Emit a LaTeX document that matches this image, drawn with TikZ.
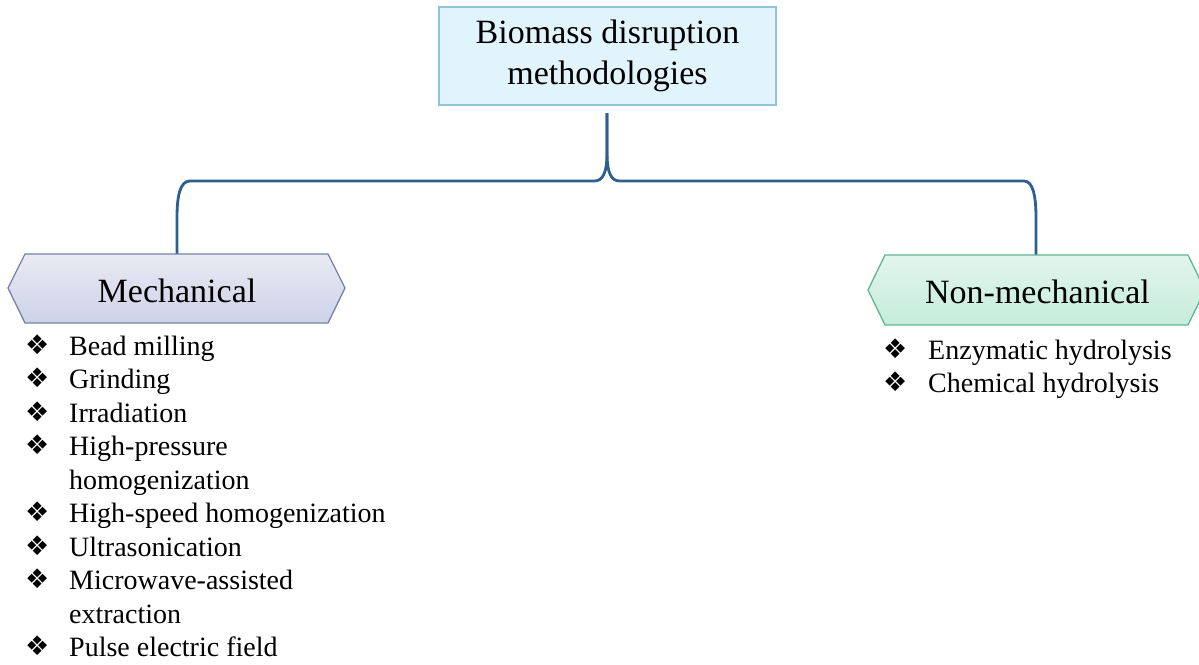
\documentclass[tikz,border=0pt]{standalone}
\usepackage{fontspec}
\setmainfont{Liberation Serif}
\newfontfamily\symfont{DejaVu Sans}
\usetikzlibrary{calc}
\definecolor{bracecol}{HTML}{2F5F8F}
\definecolor{topfill}{HTML}{E1F3FB}
\definecolor{topdraw}{HTML}{8EC3D8}
\definecolor{mechtop}{HTML}{E9EAF2}
\definecolor{mechbot}{HTML}{CDD2E8}
\definecolor{mechdraw}{HTML}{7383A8}
\definecolor{nmtop}{HTML}{E2F5EE}
\definecolor{nmbot}{HTML}{C6ECDB}
\definecolor{nmdraw}{HTML}{62B592}
\newcommand{\bul}{\makebox[20pt][c]{\smash{\raisebox{1pt}{\symfont\fontsize{27}{27}\selectfont ❖}}}}
\tikzset{
  topbox/.style={draw=topdraw, line width=1.6pt, fill=topfill, minimum width=337pt, minimum height=98pt, inner sep=0pt, align=center, font=\fontsize{34}{41}\selectfont},
  headtext/.style={inner sep=0pt, anchor=base, font=\fontsize{34}{41}\selectfont},
  mechshape/.style={top color=mechtop, bottom color=mechbot, draw=mechdraw, line width=1.3pt, line join=round},
  nmshape/.style={top color=nmtop, bottom color=nmbot, draw=nmdraw, line width=1.3pt, line join=round},
  bracestyle/.style={draw=bracecol, line width=2.8pt, line join=round},
  listtext/.style={inner sep=0pt, anchor=base west, font=\fontsize{28}{33.5}\selectfont}
}
\begin{document}
\begin{tikzpicture}[x=1pt,y=-1pt]
\useasboundingbox (0,0) rectangle (1199,664);
\clip (0,0) rectangle (1199,664);
\fill[white] (0,0) rectangle (1199,664);

% top node
\node[topbox] (top) at (607.5,56) {Biomass disruption\\methodologies};

% coordinates where the brace meets the two shapes
\coordinate (stem) at (607,113);
\coordinate (mechin) at (177,255);
\coordinate (nmin) at (1036,256);

% brace connector
\draw[bracestyle] (stem) -- (607,152) .. controls (607,173) and (603,181) .. (594,181)
  -- (190,181) .. controls (180,181) and (177,196) .. (177,218) -- (mechin);
\draw[bracestyle] (stem) -- (607,152) .. controls (607,173) and (611,181) .. (620,181)
  -- (1024,181) .. controls (1033,181) and (1036,196) .. (1036,218) -- (nmin);

% category shapes
\shade[mechshape] (8,288) -- (25,254) -- (328,254) -- (345,288) -- (328,323) -- (25,323) -- cycle;
\shade[nmshape] (868,290) -- (885,255) -- (1188,255) -- (1205,290) -- (1188,325) -- (885,325) -- cycle;

\node[headtext] (mech) at (177,302) {Mechanical};
\node[headtext] (nonmech) at (1037.5,303) {Non-mechanical};

% lists
\node[listtext] (mechlist) at (27,355) {%
\begin{tabular}[t]{@{}l@{\hspace{22pt}}l@{}}
\bul & Bead milling\\
\bul & Grinding\\
\bul & Irradiation\\
\bul & High-pressure\\
     & homogenization\\
\bul & High-speed homogenization\\
\bul & Ultrasonication\\
\bul & Microwave-assisted\\
     & extraction\\
\bul & Pulse electric field
\end{tabular}};

\node[listtext] (nmlist) at (885,359) {%
\fontsize{28}{33}\selectfont
\begin{tabular}[t]{@{}l@{\hspace{23pt}}l@{}}
\bul & Enzymatic hydrolysis\\
\bul & Chemical hydrolysis
\end{tabular}};
\end{tikzpicture}
\end{document}
